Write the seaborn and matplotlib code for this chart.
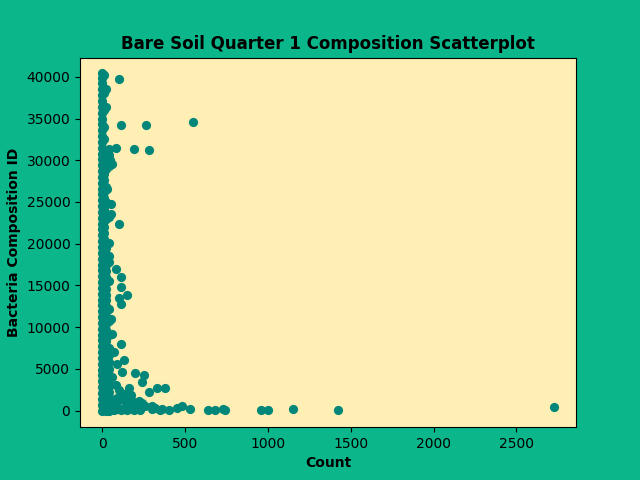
import matplotlib
matplotlib.use("Agg")
import matplotlib.pyplot as plt
import seaborn as sns

# dense column near zero count
col0_y = [0, 700, 1400, 2100, 2800, 3500, 4200, 4900, 5600, 6300, 7000, 7700, 8400, 9100,
          9800, 10500, 11200, 11900, 12600, 13300, 14000, 14700, 15400, 16100, 16800, 17500,
          18200, 18900, 19600, 20300, 21000, 21700, 22400, 23100, 23800, 24500, 25200, 25900,
          26600, 27300, 28000, 28700, 29400, 30100, 30800, 31500, 32200, 32900, 33600, 34300,
          35000, 35700, 36400, 37100, 37800, 38500, 39200, 39900, 40400]
col1_y = [300, 1000, 1700, 2400, 3100, 3800, 4500, 5200, 5900, 6600, 7300, 8000, 8700, 9400,
          10100, 10800, 11500, 12200, 12900, 13600, 14300, 15000, 15700, 16400, 17100, 17800,
          18500, 19200, 19900, 20600, 21300, 22000, 22700, 23400, 24100, 24800, 25500, 26200,
          26900, 27600, 28300, 29000, 29700, 30400, 31100, 32500, 34000, 36000, 38000, 40200]
col2_y = [0, 600, 1300, 2000, 2700, 3400, 4100, 4800, 5500, 6200, 6900, 7600, 8300, 9000,
          9700, 10400, 11100, 11800, 12500, 13200, 13900, 14600, 15300, 16000, 16700, 17400,
          18100, 18800, 19500, 22900, 23600, 25000, 26800, 29000, 30100, 31000, 36400, 38500]
col3_y = [0, 500, 1000, 1600, 2200, 2900, 3600, 4300, 5000, 5800, 6700, 7500, 9000, 10700,
          12200, 15500, 17800, 20100, 23200, 29300, 30600, 31300]

other_x = [100, 110, 265, 545, 280, 190, 80, 60, 100, 50, 55, 80, 110, 115, 150, 100, 110, 50,
           115, 130, 200, 250, 240, 380, 330, 280, 160, 120, 90, 70, 450, 480, 530, 640, 680,
           730, 740, 960, 1000, 1150, 1420, 2730, 400, 350, 300, 200, 150, 60, 40, 30, 45,
           90, 140, 180, 220, 260, 320, 360, 100, 170, 240, 300, 60, 80, 130,
           70, 90, 110, 130, 150, 170, 190, 210, 230, 60, 80, 100, 120, 140, 160, 180, 200]
other_y = [39700, 34200, 34200, 34600, 31200, 31300, 31500, 29500, 22300, 24700, 23500, 17000,
           16000, 14800, 13800, 13500, 12800, 11000, 8000, 6000, 4500, 4300, 3400, 2700, 2700,
           2200, 2700, 4600, 5600, 7000, 300, 500, 200, 50, 100, 150, 50, 80, 50, 150, 50, 400,
           50, 100, 150, 200, 100, 9200, 18500, 26500, 30000, 1500, 1000, 800, 1200, 600, 300,
           200, 2500, 1800, 900, 500, 4000, 3000, 2000,
           100, 200, 50, 300, 150, 400, 100, 300, 100, 1000, 600, 1300, 2000, 1600, 500, 1200, 700]

x = ([0] * len(col0_y) + [10] * len(col1_y) + [22] * len(col2_y) + [40] * len(col3_y)
     + other_x)
y = col0_y + col1_y + col2_y + col3_y + other_y

fig, ax = plt.subplots(figsize=(6.4, 4.8), dpi=100)
fig.patch.set_facecolor("#0bb68a")
ax.set_facecolor("#ffefb5")
sns.scatterplot(x=x, y=y, ax=ax, color="#00877a", s=44, edgecolor="#00877a", linewidth=0)
ax.set_xlabel("Count", fontweight="bold")
ax.set_ylabel("Bacteria Composition ID", fontweight="bold")
ax.set_title("Bare Soil Quarter 1 Composition Scatterplot", fontweight="bold")
ax.set_xlim(-135, 2860)
ax.set_ylim(-2000, 42300)
plt.savefig("out.png", dpi=100, facecolor=fig.get_facecolor())
